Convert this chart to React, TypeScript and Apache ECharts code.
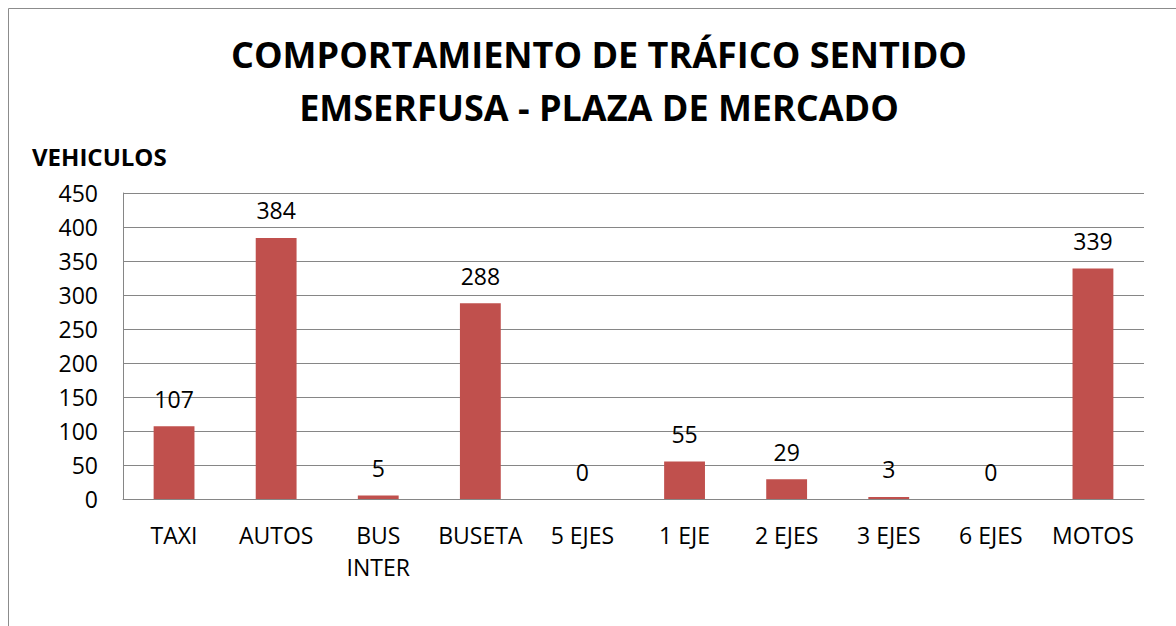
import React, { useEffect, useRef } from "react";
import * as echarts from "echarts";

const titleLines = ["COMPORTAMIENTO DE TRÁFICO SENTIDO", "EMSERFUSA - PLAZA DE MERCADO"];
const yAxisName = "VEHICULOS";
const categories = ["TAXI", "AUTOS", "BUS\nINTER", "BUSETA", "5 EJES", "1 EJE", "2 EJES", "3 EJES", "6 EJES", "MOTOS"];
const vehicleCounts = [107, 384, 5, 288, 0, 55, 29, 3, 0, 339];
const yMin = 0;
const yMax = 450;
const yStep = 50;

const FONT = "'Open Sans', 'Noto Sans', sans-serif";

export default function App() {
  const ref = useRef<HTMLDivElement>(null);
  useEffect(() => {
    if (!ref.current) return;
    const chart = echarts.init(ref.current, undefined, { renderer: "svg" });
    chart.setOption({
      animation: false,
      backgroundColor: "#ffffff",
      textStyle: { fontFamily: FONT },
      graphic: [
        { type: "line", shape: { x1: 8.5, y1: 8.5, x2: 1176, y2: 8.5 }, style: { stroke: "#8c8c8c", lineWidth: 1 } },
        { type: "line", shape: { x1: 8.5, y1: 8.5, x2: 8.5, y2: 626 }, style: { stroke: "#8c8c8c", lineWidth: 1 } },
        {
          type: "text",
          left: 32,
          top: 144,
          style: { text: yAxisName, fontFamily: FONT, fontWeight: "bold", fontSize: 24, fill: "#000" },
        },
      ],
      title: {
        text: titleLines.join("\n"),
        left: 594,
        textAlign: "center",
        top: 23,
        textStyle: {
          fontFamily: FONT,
          fontWeight: "bold",
          fontSize: 36,
          lineHeight: 53,
          color: "#000",
        },
      },
      grid: { left: 123, right: 32, top: 193, bottom: 127, containLabel: false },
      xAxis: {
        type: "category",
        data: categories,
        axisLine: { show: true, lineStyle: { color: "#868686", width: 1 } },
        axisTick: { show: false },
        axisLabel: {
          color: "#000",
          fontFamily: FONT,
          fontSize: 23,
          lineHeight: 32,
          margin: 20,
          interval: 0,
        },
      },
      yAxis: {
        type: "value",
        min: yMin,
        max: yMax,
        interval: yStep,
        axisLine: { show: true, lineStyle: { color: "#868686", width: 1 } },
        axisTick: { show: false },
        splitLine: { show: true, lineStyle: { color: "#868686", width: 1 } },
        axisLabel: { color: "#000", fontFamily: FONT, fontSize: 23, margin: 25 },
      },
      series: [
        {
          type: "bar",
          data: vehicleCounts,
          barWidth: "40%",
          itemStyle: { color: "#C0504D" },
          label: {
            show: true,
            position: "top",
            distance: 16,
            color: "#000",
            fontFamily: FONT,
            fontSize: 23,
          },
        },
      ],
    });
    return () => chart.dispose();
  }, []);
  return <div ref={ref} style={{ position: "fixed", left: 0, top: 0, width: 1176, height: 626 }} />;
}
